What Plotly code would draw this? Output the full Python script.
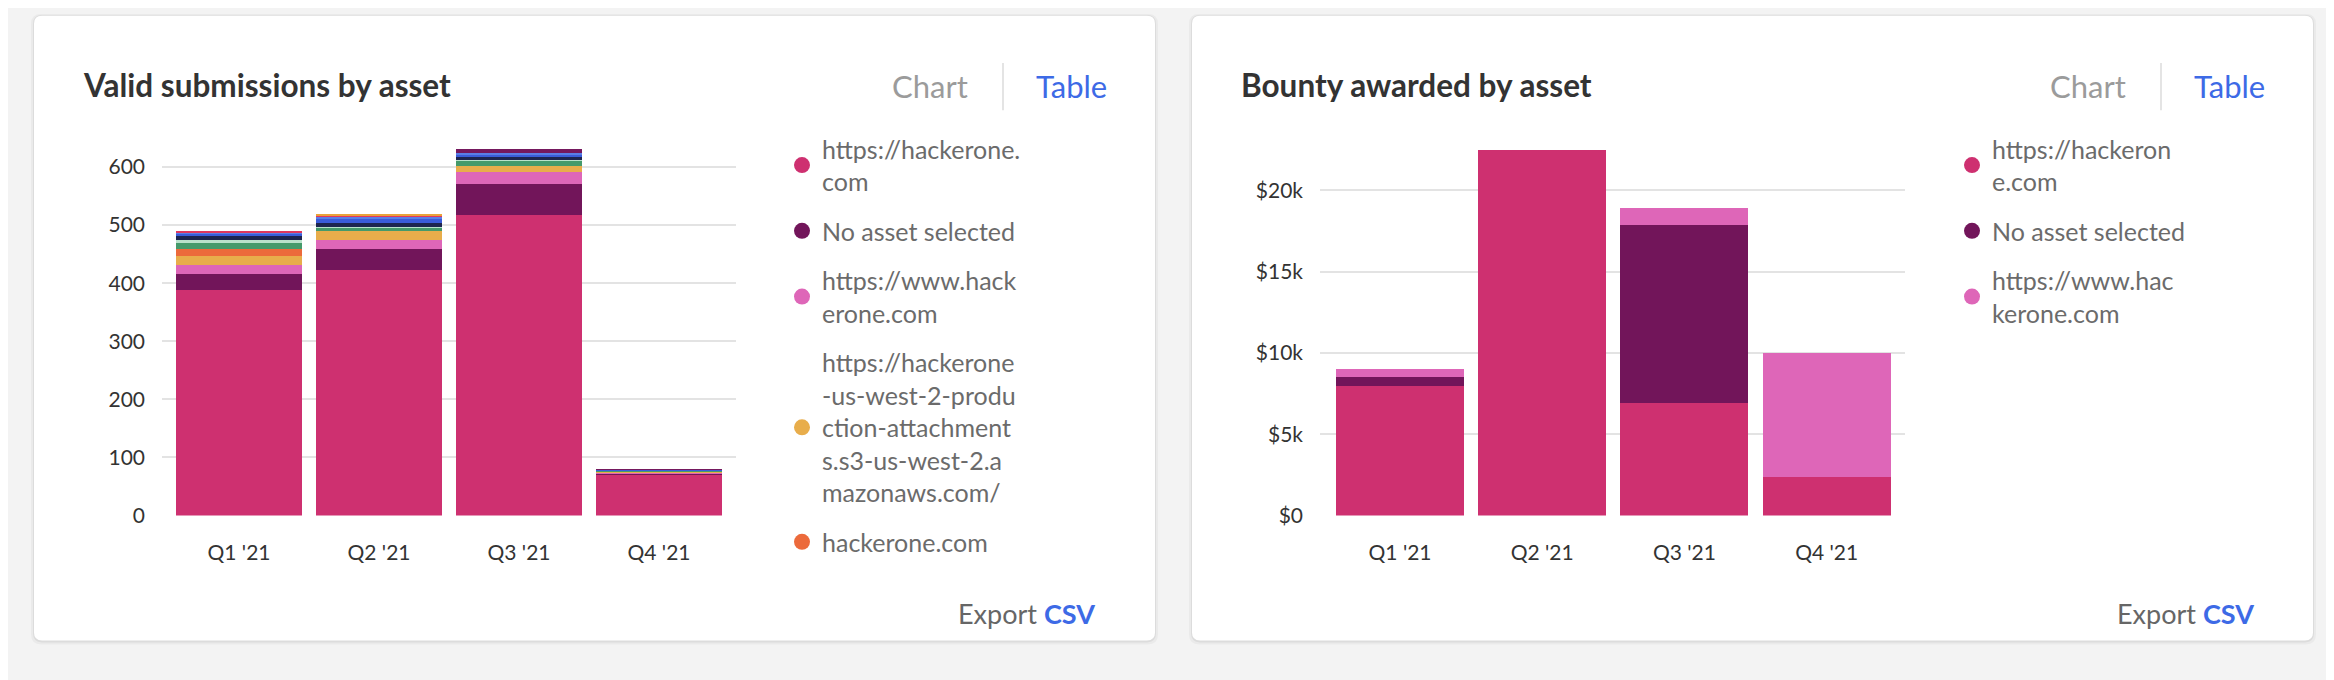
import plotly.graph_objects as go

# The page body adds an 8px margin, so the figure is drawn 8px right/down.
OFF = 8
W, H = 2334 - OFF, 680 - OFF

# ---------------- data ----------------
quarters = ["Q1 '21", "Q2 '21", "Q3 '21", "Q4 '21"]

# Valid submissions by asset (count per quarter)
sub_hackerone_com = [388, 423, 517, 70]
sub_no_asset = [27, 36, 54, 2]
sub_www_hackerone = [17, 16, 20, 2]
sub_s3_attachments = [15, 14, 10, 2]
sub_hackerone_bare = [12, 0, 0, 0]
sub_api = [10, 7, 10, 1]
sub_docs = [5, 1, 1, 0]
sub_mobile = [7, 7, 5, 1]
sub_hacker101 = [4, 6, 5, 1]
sub_ctf = [2, 4, 2, 0]
sub_support = [2, 3, 0, 0]
sub_events = [0, 2, 0, 0]
sub_other = [0, 0, 7, 1]

sub_labels = [
    "https://hackerone.<br>com",
    "No asset selected",
    "https://www.hack<br>erone.com",
    "https://hackerone<br>-us-west-2-produ<br>ction-attachment<br>s.s3-us-west-2.a<br>mazonaws.com/",
    "hackerone.com",
    "api.hackerone.com",
    "docs.hackerone.com",
    "HackerOne mobile app",
    "www.hacker101.com",
    "ctf.hacker101.com",
    "support.hackerone.com",
    "events.hackerone.com",
    "Other",
]
# only the first entries fit in the visible legend area of the card
sub_legend_visible = 5
sub_colors = ["#CE3070", "#72155A", "#DE66B8", "#E8AD4B", "#EC6A3B", "#459A6B",
              "#B9E2CB", "#1D2550", "#3A5CDA", "#5A7EE6", "#E0385E", "#E9A33A", "#75185E"]

# Bounty awarded by asset (USD per quarter)
bty_hackerone_com = [8000, 22500, 6900, 2400]
bty_no_asset = [500, 0, 11000, 0]
bty_www_hackerone = [500, 0, 1000, 7600]

bty_labels = ["https://hackeron<br>e.com", "No asset selected", "https://www.hac<br>kerone.com"]
bty_colors = ["#CE3070", "#72155A", "#DE66B8"]

sub_tick_vals = [0, 100, 200, 300, 400, 500, 600]
sub_tick_text = ["0", "100", "200", "300", "400", "500", "600"]
bty_tick_vals = [0, 5000, 10000, 15000, 20000]
bty_tick_text = ["$0", "$5k", "$10k", "$15k", "$20k"]

sub_series = [sub_hackerone_com, sub_no_asset, sub_www_hackerone, sub_s3_attachments,
              sub_hackerone_bare, sub_api, sub_docs, sub_mobile, sub_hacker101, sub_ctf,
              sub_support, sub_events, sub_other]
bty_series = [bty_hackerone_com, bty_no_asset, bty_www_hackerone]

FONT = "Lato"


def px(x):
    return (x - OFF) / W


def py(y):
    return 1 - (y - OFF) / H


fig = go.Figure()

for i, (vals, lab, col) in enumerate(zip(sub_series, sub_labels, sub_colors)):
    fig.add_trace(go.Bar(x=quarters, y=vals, marker=dict(color=col, line=dict(width=0)),
                         name=lab.replace("<br>", ""), legendgroup="s%d" % i, showlegend=False,
                         xaxis="x", yaxis="y"))
for i, (lab, col) in enumerate(zip(sub_labels[:sub_legend_visible], sub_colors)):
    fig.add_trace(go.Scatter(x=[None], y=[None], mode="markers", name=lab,
                             marker=dict(color=col, size=20, symbol="circle"),
                             legendgroup="s%d" % i, showlegend=True, legend="legend",
                             xaxis="x", yaxis="y"))

for i, (vals, lab, col) in enumerate(zip(bty_series, bty_labels, bty_colors)):
    fig.add_trace(go.Bar(x=quarters, y=vals, marker=dict(color=col, line=dict(width=0)),
                         name=lab.replace("<br>", ""), legendgroup="b%d" % i, showlegend=False,
                         xaxis="x2", yaxis="y2"))
for i, (lab, col) in enumerate(zip(bty_labels, bty_colors)):
    fig.add_trace(go.Scatter(x=[None], y=[None], mode="markers", name=lab,
                             marker=dict(color=col, size=20, symbol="circle"),
                             legendgroup="b%d" % i, showlegend=True, legend="legend2",
                             xaxis="x2", yaxis="y2"))


def rounded(x0, y0, x1, y1, r):
    rx, ry = r / W, r / H
    X0, X1 = px(x0), px(x1)
    Y0, Y1 = py(y0), py(y1)  # Y0 top (bigger), Y1 bottom
    return (f"M{X0 + rx},{Y0} L{X1 - rx},{Y0} Q{X1},{Y0} {X1},{Y0 - ry} "
            f"L{X1},{Y1 + ry} Q{X1},{Y1} {X1 - rx},{Y1} L{X0 + rx},{Y1} "
            f"Q{X0},{Y1} {X0},{Y1 + ry} L{X0},{Y0 - ry} Q{X0},{Y0} {X0 + rx},{Y0} Z")


shapes = []
annotations = []
for off, title, export_x in [(0, "Valid submissions by asset", 1097),
                             (1158, "Bounty awarded by asset", 2256)]:
    x0, x1 = 34 + off, 1155 + off
    shapes.append(dict(type="path", path=rounded(x0 - 3, 14, x1 + 3, 655, 10), xref="paper", yref="paper",
                       fillcolor="rgba(0,0,0,0.035)", line=dict(width=0), layer="below"))
    shapes.append(dict(type="path", path=rounded(x0 - 1, 15, x1 + 1, 653, 9), xref="paper", yref="paper",
                       fillcolor="rgba(0,0,0,0.06)", line=dict(width=0), layer="below"))
    shapes.append(dict(type="path", path=rounded(x0, 16, x1, 651, 8), xref="paper", yref="paper",
                       fillcolor="#FFFFFF", line=dict(width=0), layer="below"))
    shapes.append(dict(type="line", xref="paper", yref="paper", x0=px(1003 + off), x1=px(1003 + off),
                       y0=py(64), y1=py(112), line=dict(color="#E4E4E4", width=2), layer="below"))
    annotations.append(dict(text="<b>%s</b>" % title, x=px(81 + off), y=py(86), xref="paper", yref="paper",
                            xanchor="left", yanchor="middle", showarrow=False,
                            font=dict(family=FONT, size=31.5, color="#333333")))
    annotations.append(dict(text="Chart", x=px(930 + off), y=py(87), xref="paper", yref="paper",
                            xanchor="center", yanchor="middle", showarrow=False,
                            font=dict(family=FONT, size=31, color="#9B9B9B")))
    annotations.append(dict(text="Table", x=px(1071 + off), y=py(87), xref="paper", yref="paper",
                            xanchor="center", yanchor="middle", showarrow=False,
                            font=dict(family=FONT, size=31, color="#3D6AE6")))
    annotations.append(dict(text="Export <span style='color:#3D6AE6'><b>CSV</b></span>",
                            x=px(export_x), y=py(624), xref="paper", yref="paper",
                            xanchor="right", yanchor="middle", showarrow=False,
                            font=dict(family=FONT, size=27, color="#666666")))

tickfont = dict(family=FONT, size=21, color="#333333")
legend_common = dict(xanchor="left", yanchor="top", bgcolor="rgba(0,0,0,0)",
                     font=dict(family=FONT, size=25, color="#6B6B6B"),
                     tracegroupgap=14, traceorder="grouped", itemclick=False, itemdoubleclick=False)

fig.update_layout(
    width=W, height=H,
    margin=dict(l=0, r=0, t=0, b=0),
    paper_bgcolor="#F3F3F3",
    plot_bgcolor="rgba(0,0,0,0)",
    barmode="stack",
    bargap=0.1,
    shapes=shapes,
    annotations=annotations,
    xaxis=dict(domain=[px(162), px(736)], range=[-0.55, 3.55], type="category",
               showgrid=False, zeroline=False, showline=False, tickfont=tickfont,
               ticklabelstandoff=22, fixedrange=True),
    yaxis=dict(domain=[py(524), py(130)], range=[0, 667], tickvals=sub_tick_vals, ticktext=sub_tick_text,
               gridcolor="#E3E3E3", gridwidth=2, zeroline=False, showline=False, tickfont=tickfont,
               ticklabelstandoff=16, fixedrange=True),
    xaxis2=dict(domain=[px(1320), px(1905)], range=[-0.5626, 3.551], type="category", anchor="y2",
                showgrid=False, zeroline=False, showline=False, tickfont=tickfont,
                ticklabelstandoff=22, fixedrange=True),
    yaxis2=dict(domain=[py(524), py(130)], range=[0, 23840], anchor="x2",
                tickvals=bty_tick_vals, ticktext=bty_tick_text,
                gridcolor="#E3E3E3", gridwidth=2, zeroline=False, showline=False, tickfont=tickfont,
                ticklabelstandoff=16, fixedrange=True),
    legend=dict(x=px(782), y=py(128), **legend_common),
    legend2=dict(x=px(1952), y=py(128), **legend_common),
    showlegend=True,
)

fig.write_html("out.html", config={"displayModeBar": False})
